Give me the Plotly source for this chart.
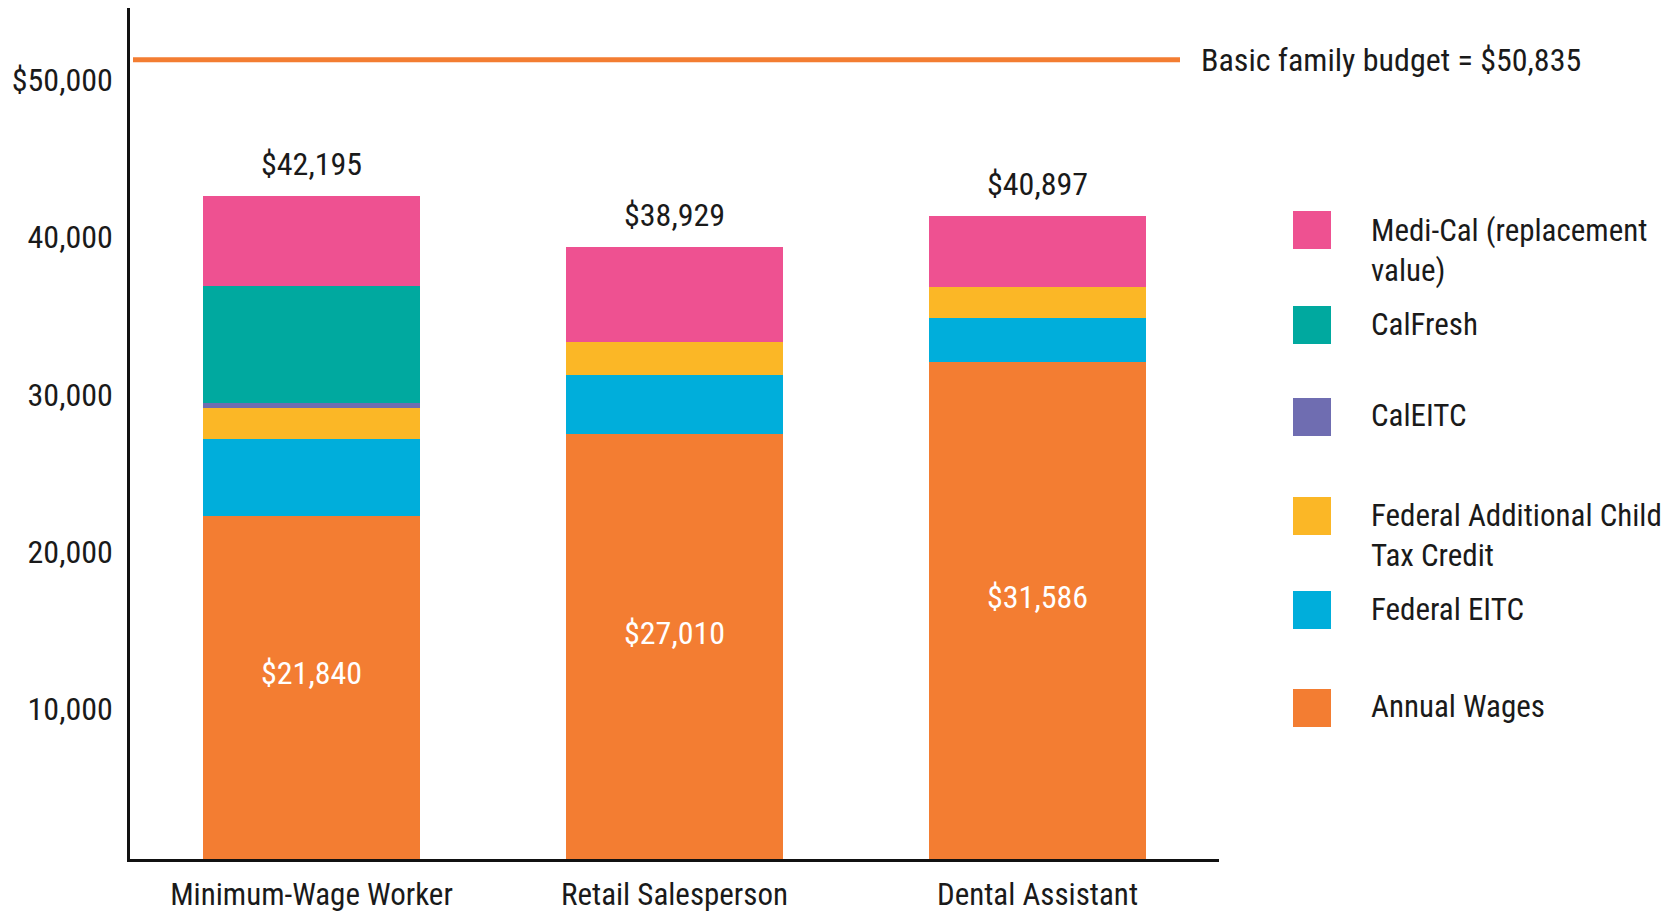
import plotly.graph_objects as go

categories = ["Minimum-Wage Worker", "Retail Salesperson", "Dental Assistant"]
annual_wages = [21840, 27010, 31586]
federal_eitc = [4879, 3790, 2826]
federal_actc = [1966, 2090, 2000]
cal_eitc = [340, 0, 0]
calfresh = [7430, 0, 0]
medi_cal = [5740, 6039, 4485]
totals = [42195, 38929, 40897]
basic_budget = 50835

wage_labels = ["$21,840", "$27,010", "$31,586"]
total_labels = ["$42,195", "$38,929", "$40,897"]
tick_vals = [10000, 20000, 30000, 40000, 50000]
tick_text = ["10,000", "20,000", "30,000", "40,000", "$50,000"]

series = [
    ("Annual Wages", annual_wages, "#F37D32"),
    ("Federal EITC", federal_eitc, "#00AEDB"),
    ("Federal Additional Child<br>Tax Credit", federal_actc, "#FBB726"),
    ("CalEITC", cal_eitc, "#6F6DB1"),
    ("CalFresh", calfresh, "#00A99F"),
    ("Medi-Cal (replacement<br>value)", medi_cal, "#EE5191"),
]

FONT = "Liberation Sans Narrow, Arial Narrow, Roboto Condensed, Liberation Sans, sans-serif"
TXT = "#1a1a1a"
FS = 32

fig = go.Figure()
for name, vals, col in series:
    fig.add_trace(go.Bar(
        x=categories, y=vals, name=name, marker=dict(color=col, line=dict(width=0)),
        width=0.6, showlegend=False, hoverinfo="name+y",
    ))

# the page body adds an 8px offset; sizes below are in figure pixels
W, H = 1665, 910
L, R, T, B = 122, 454, 0, 59
PW = W - L - R
PH = H - T - B
SX0, SY1 = 130, 859  # screen position of plot left / plot bottom


def px_x(px):
    return (px - SX0) / PW


def px_y(py):
    return (SY1 - py) / PH


annotations = []
# totals above bars
for c, t, lab in zip(categories, totals, total_labels):
    annotations.append(dict(x=c, y=t, xref="x", yref="y", text=lab, showarrow=False,
                            yanchor="bottom", yshift=11,
                            font=dict(family=FONT, size=FS, color=TXT)))
# wage labels inside bars
for c, w, lab in zip(categories, annual_wages, wage_labels):
    annotations.append(dict(x=c, y=w / 2, xref="x", yref="y", text=lab, showarrow=False,
                            yanchor="middle", yshift=14,
                            font=dict(family=FONT, size=FS, color="white")))

# budget line
shapes = [dict(type="line", xref="paper", yref="y", x0=px_x(133), x1=px_x(1180),
               y0=basic_budget, y1=basic_budget, line=dict(color="#F37D32", width=5))]
annotations.append(dict(x=px_x(1199), y=basic_budget, xref="paper", yref="y",
                        text="Basic family budget = $" + f"{basic_budget:,}", showarrow=False,
                        xanchor="left", yanchor="middle",
                        font=dict(family=FONT, size=FS, color=TXT)))

# manual legend
legend_items = [
    (series[5][0], series[5][2], 230, 231),
    (series[4][0], series[4][2], 325, 325),
    (series[3][0], series[3][2], 417, 416),
    (series[2][0], series[2][2], 516, 516),
    (series[1][0], series[1][2], 610, 610),
    (series[0][0], series[0][2], 708, 707),
]
for name, col, sq_c, tx_c in legend_items:
    shapes.append(dict(type="rect", xref="paper", yref="paper",
                       x0=px_x(1293), x1=px_x(1331),
                       y0=px_y(sq_c + 19), y1=px_y(sq_c - 19),
                       fillcolor=col, line=dict(width=0)))
    annotations.append(dict(x=px_x(1369), y=px_y(tx_c - 21), xref="paper", yref="paper",
                            text=name, showarrow=False, xanchor="left", yanchor="top",
                            align="left", font=dict(family=FONT, size=31, color=TXT)))

fig.update_layout(
    barmode="stack",
    width=W, height=H,
    margin=dict(l=L, r=R, t=T, b=B, autoexpand=False),
    paper_bgcolor="white", plot_bgcolor="white",
    font=dict(family=FONT, size=FS, color=TXT),
    shapes=shapes, annotations=annotations,
    showlegend=False,
    xaxis=dict(range=[-0.5, 2.5], showgrid=False, zeroline=False, showline=True,
               linecolor="#111111", linewidth=3, ticks="", ticklabelstandoff=6,
               tickfont=dict(family=FONT, size=31, color=TXT)),
    yaxis=dict(range=[0, 54130], showgrid=False, zeroline=False, showline=True,
               linecolor="#111111", linewidth=2.5, ticks="", tickvals=tick_vals,
               ticktext=tick_text, ticklabelstandoff=8, ticklabelshift=7,
               tickfont=dict(family=FONT, size=FS, color=TXT)),
)

fig.write_html("out.html")
